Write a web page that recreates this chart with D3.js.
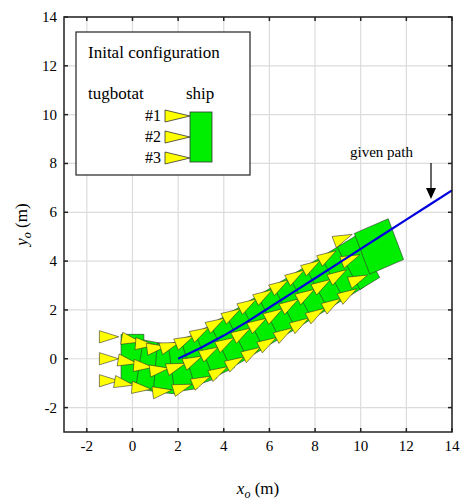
<!DOCTYPE html><html><head><script src="https://cdn.jsdelivr.net/npm/d3@7"></script>
<style>body{margin:0;background:#fff}svg,svg text{font-family:"Liberation Serif","Times New Roman",serif}</style></head><body>
<script>
const xTicks=[-2,0,2,4,6,8,10,12,14], yTicks=[-2,0,2,4,6,8,10,12,14];
const pathX=[2,3,4,5,6,7,8,9,10,11,12,13,14];
const pathY=[0,0.45,0.95,1.5,2.1,2.7,3.3,3.9,4.5,5.1,5.7,6.3,6.9];
const shipX=[0,0.8,1.5,2.2,2.9,3.6,4.3,5.0,5.7,6.4,7.1,7.8,8.5,9.2,9.9,10.8];
const shipY=[0,-0.3,-0.4,-0.3,0.0,0.35,0.75,1.15,1.55,1.95,2.35,2.75,3.15,3.55,3.95,4.6];
const shipH=[0,-10,-5,8,18,24,27,28,29,29,30,30,30,30,30,22];
const W=476,H=504,m={l:64,r:452,t:17,b:432};
const svg=d3.select("body").append("svg").attr("width",W).attr("height",H).attr("font-family","Liberation Serif, serif");
const x=d3.scaleLinear().domain([-3,14]).range([m.l,m.r]);
const y=d3.scaleLinear().domain([-3,14]).range([m.b,m.t]);
const g=svg.append("g");
xTicks.forEach(t=>g.append("line").attr("x1",x(t)).attr("x2",x(t)).attr("y1",m.t).attr("y2",m.b).attr("stroke","#dcdcdc").attr("stroke-width",1.2));
yTicks.forEach(t=>g.append("line").attr("y1",y(t)).attr("y2",y(t)).attr("x1",m.l).attr("x2",m.r).attr("stroke","#dcdcdc").attr("stroke-width",1.2));
const P=(cx,cy,h,pts)=>{const a=h*Math.PI/180,c=Math.cos(a),s=Math.sin(a);return pts.map(([u,v])=>[x(cx+u*c-v*s),y(cy+u*s+v*c)].join(",")).join(" ");};
const tri=[[0,0.25],[0,-0.25],[0.85,0]];
shipX.forEach((sx,i)=>{
  const h=shipH[i], last=i===shipX.length-1;
  const hw=last?0.8:0.5, hh=last?0.9:1.0;
  g.append("polygon").attr("points",P(sx,shipY[i],h,[[-hw,-hh],[hw,-hh],[hw,hh],[-hw,hh]])).attr("fill","#00ee00").attr("stroke","#333").attr("stroke-width",0.6);
  [0.9,0,-0.9].forEach(off=>{
    g.append("polygon").attr("points",P(sx,shipY[i],h,tri.map(([u,v])=>[u-(last?1.75:1.45),v+off]))).attr("fill","#ffff00").attr("stroke","#333").attr("stroke-width",0.6);
  });
});
g.append("path").attr("d",d3.line().x((d,i)=>x(pathX[i])).y(d=>y(d))(pathY)).attr("fill","none").attr("stroke","#0000dd").attr("stroke-width",2.2);
svg.append("rect").attr("x",m.l).attr("y",m.t).attr("width",m.r-m.l).attr("height",m.b-m.t).attr("fill","none").attr("stroke","#222").attr("stroke-width",1.5);
xTicks.forEach(t=>{svg.append("line").attr("x1",x(t)).attr("x2",x(t)).attr("y1",m.b).attr("y2",m.b-4).attr("stroke","#222").attr("stroke-width",1.5);
 svg.append("line").attr("x1",x(t)).attr("x2",x(t)).attr("y1",m.t).attr("y2",m.t+4).attr("stroke","#222").attr("stroke-width",1.5);
 svg.append("text").attr("x",x(t)).attr("y",m.b+19).attr("text-anchor","middle").attr("font-size",15).text(t);});
yTicks.forEach(t=>{svg.append("line").attr("y1",y(t)).attr("y2",y(t)).attr("x1",m.l).attr("x2",m.l+4).attr("stroke","#222").attr("stroke-width",1.5);
 svg.append("line").attr("y1",y(t)).attr("y2",y(t)).attr("x1",m.r).attr("x2",m.r-4).attr("stroke","#222").attr("stroke-width",1.5);
 svg.append("text").attr("x",m.l-7).attr("y",y(t)+5).attr("text-anchor","end").attr("font-size",15).text(t);});
const xl=svg.append("text").attr("x",(m.l+m.r)/2).attr("y",494).attr("text-anchor","middle").attr("font-size",17);
xl.append("tspan").attr("font-style","italic").text("x");xl.append("tspan").attr("font-style","italic").attr("font-size",12).attr("dy",4).text("o");xl.append("tspan").attr("dy",-4).text(" (m)");
const yl=svg.append("text").attr("transform",`translate(27,${(m.t+m.b)/2}) rotate(-90)`).attr("text-anchor","middle").attr("font-size",17);
yl.append("tspan").attr("font-style","italic").text("y");yl.append("tspan").attr("font-style","italic").attr("font-size",12).attr("dy",4).text("o");yl.append("tspan").attr("dy",-4).text(" (m)");
svg.append("text").attr("x",350).attr("y",157).attr("font-size",15).text("given path");
svg.append("line").attr("x1",431).attr("x2",431).attr("y1",163).attr("y2",194).attr("stroke","#000").attr("stroke-width",1.2);
svg.append("path").attr("d","M426,188 L431,199 L436,188 Z").attr("fill","#000");
svg.append("rect").attr("x",76).attr("y",32).attr("width",174).attr("height",143).attr("fill","#fff").attr("stroke","#222").attr("stroke-width",1.2);
svg.append("text").attr("x",88).attr("y",58).attr("font-size",17).text("Inital configuration");
svg.append("text").attr("x",88).attr("y",99).attr("font-size",17).text("tugbotat");
svg.append("text").attr("x",186).attr("y",99).attr("font-size",17).text("ship");
svg.append("rect").attr("x",190).attr("y",112).attr("width",22).attr("height",50).attr("fill","#00ee00").attr("stroke","#333").attr("stroke-width",0.8);
[["#1",116],["#2",137],["#3",158]].forEach(([l,yy])=>{
 svg.append("text").attr("x",145).attr("y",yy+5).attr("font-size",16).text(l);
 svg.append("polygon").attr("points",`165,${yy-6} 165,${yy+6} 190,${yy}`).attr("fill","#ffff00").attr("stroke","#333").attr("stroke-width",0.8);});
</script></body></html>
